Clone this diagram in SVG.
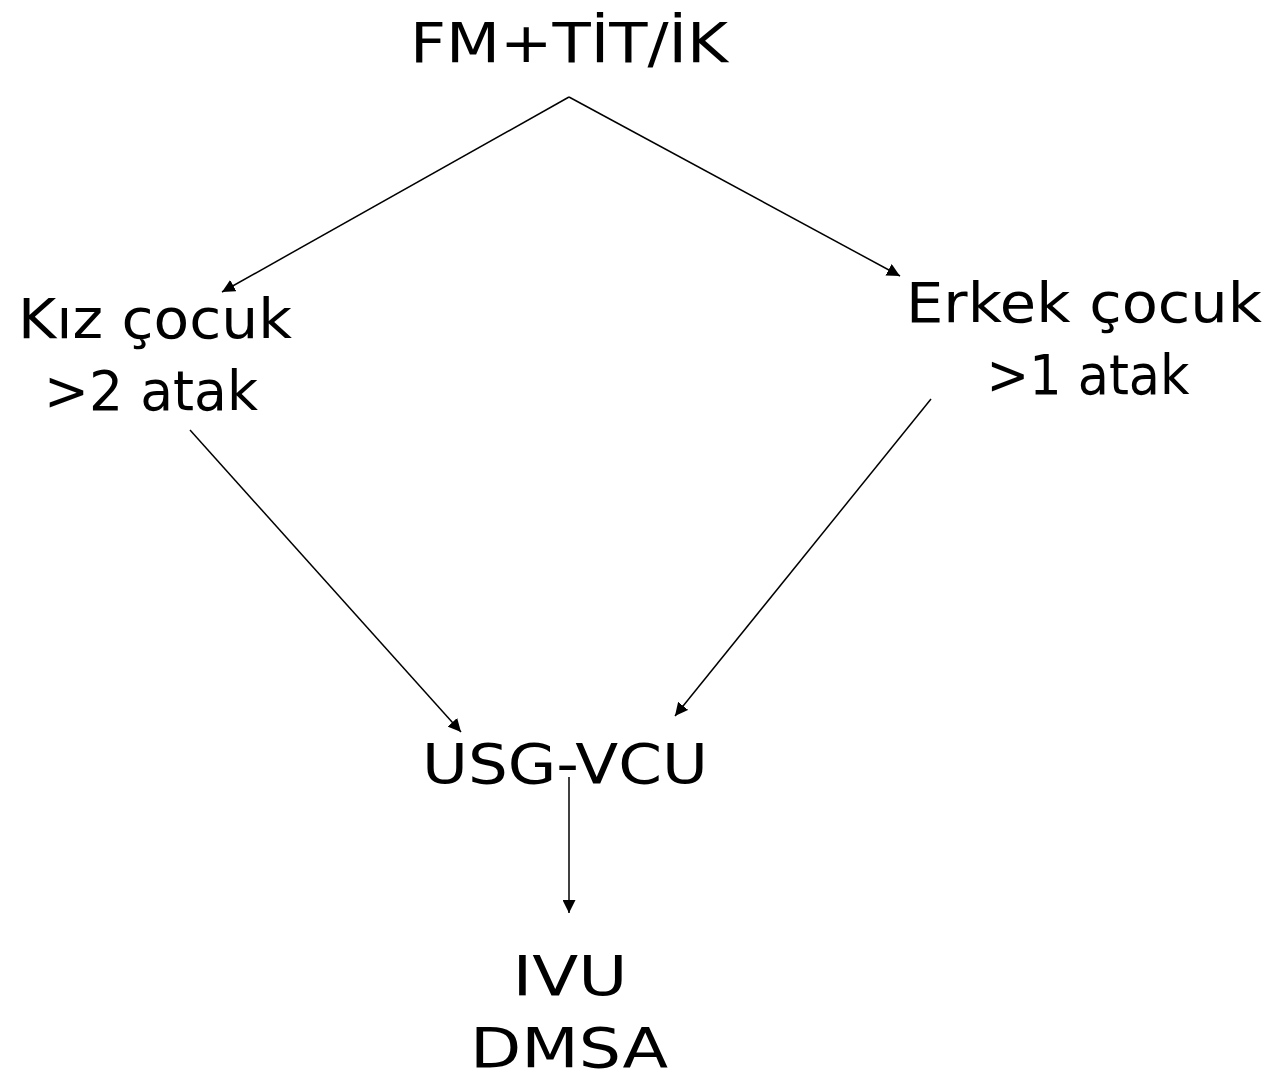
<svg xmlns="http://www.w3.org/2000/svg" width="1279" height="1079" viewBox="0 0 1279 1079">
<style>
text{font-family:"DejaVu Sans","Liberation Sans",sans-serif;font-size:56px;fill:#000;text-anchor:middle}
.c{stroke:#000;stroke-width:1.5;fill:none;marker-end:url(#ah)}
</style>
<defs>
<marker id="ah" viewBox="0 0 10 10" refX="10" refY="5" markerWidth="13" markerHeight="13" markerUnits="userSpaceOnUse" orient="auto">
<path d="M0,0 L10,5 L0,10 z" fill="#000"/>
</marker>
</defs>
<rect width="1279" height="1079" fill="#fff"/>
<g id="connectors">
<line class="c" x1="569" y1="97" x2="222" y2="292"/>
<line class="c" x1="569" y1="97" x2="900" y2="276"/>
<line class="c" x1="190" y1="430" x2="461" y2="732"/>
<line class="c" x1="931" y1="399" x2="675" y2="716"/>
<line class="c" x1="569" y1="777" x2="569" y2="913"/>
</g>
<g id="n-top"><text x="569" y="62" textLength="318" lengthAdjust="spacingAndGlyphs">FM+TİT/İK</text></g>
<g id="n-kiz"><text x="155" y="338" textLength="274" lengthAdjust="spacingAndGlyphs">Kız çocuk</text><text x="151" y="410" textLength="214" lengthAdjust="spacingAndGlyphs">&gt;2 atak</text></g>
<g id="n-erkek"><text x="1084" y="322" textLength="356" lengthAdjust="spacingAndGlyphs">Erkek çocuk</text><text x="1088" y="394" textLength="203" lengthAdjust="spacingAndGlyphs">&gt;1 atak</text></g>
<g id="n-usg"><text x="565" y="783" textLength="286" lengthAdjust="spacingAndGlyphs">USG-VCU</text></g>
<g id="n-ivu"><text x="570" y="995" textLength="115" lengthAdjust="spacingAndGlyphs">IVU</text><text x="569" y="1067" textLength="198" lengthAdjust="spacingAndGlyphs">DMSA</text></g>
</svg>
